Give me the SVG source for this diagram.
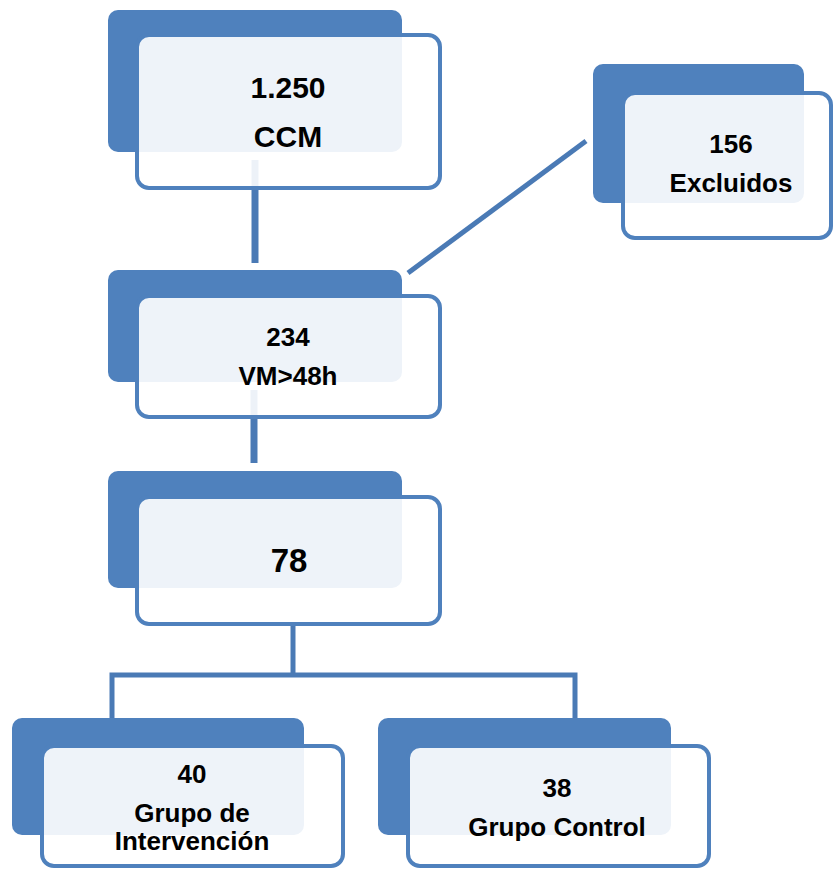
<svg xmlns="http://www.w3.org/2000/svg" width="833" height="870" viewBox="0 0 833 870">
<style>
.back{fill:#4F81BD;}
.front{fill:#FFFFFF;fill-opacity:0.9;stroke:#4F81BD;stroke-width:4;}
.conn{stroke:#4A7AB5;fill:none;stroke-linecap:butt;}
text{font-family:"Liberation Sans",Arial,sans-serif;font-weight:bold;fill:#000;text-anchor:middle;}
.t26{font-size:26px;}
.t30{font-size:30px;}
.t33{font-size:33px;}
</style>
<rect width="833" height="870" fill="#FFFFFF"/>
<g id="connectors">
<line class="conn" x1="255" y1="160" x2="255" y2="263" stroke-width="7"/>
<line class="conn" x1="254" y1="390" x2="254" y2="463" stroke-width="7"/>
<line class="conn" x1="408" y1="273" x2="586" y2="141" stroke-width="5"/>
<polyline class="conn" points="293,624 293,675" stroke-width="5"/>
<polyline class="conn" points="112,720 112,675 575,675 575,720" stroke-width="5"/>
</g>
<g id="node-ccm">
<rect class="back" x="108" y="10" width="294" height="142" rx="10"/>
<rect class="front" x="137" y="35" width="303" height="153" rx="12"/>
<text class="t30" x="288" y="98">1.250</text>
<text class="t30" x="288" y="147">CCM</text>
</g>
<g id="node-excluidos">
<rect class="back" x="593" y="64" width="211" height="139" rx="10"/>
<rect class="front" x="623" y="93" width="208" height="145" rx="12"/>
<text class="t26" x="731" y="153">156</text>
<text class="t26" x="731" y="192">Excluidos</text>
</g>
<g id="node-vm">
<rect class="back" x="108" y="270" width="294" height="112" rx="10"/>
<rect class="front" x="137" y="296" width="303" height="121" rx="12"/>
<text class="t26" x="288" y="346">234</text>
<text class="t26" x="288" y="385">VM&gt;48h</text>
</g>
<g id="node-78">
<rect class="back" x="108" y="471" width="294" height="117" rx="10"/>
<rect class="front" x="137" y="497" width="303" height="127" rx="12"/>
<text class="t33" x="289" y="572">78</text>
</g>
<g id="node-intervencion">
<rect class="back" x="12" y="718" width="292" height="117" rx="10"/>
<rect class="front" x="42" y="746" width="301" height="120" rx="12"/>
<text class="t26" x="192" y="783">40</text>
<text class="t26" x="192" y="822">Grupo de</text>
<text class="t26" x="192" y="850">Intervención</text>
</g>
<g id="node-control">
<rect class="back" x="378" y="718" width="293" height="117" rx="10"/>
<rect class="front" x="408" y="746" width="301" height="120" rx="12"/>
<text class="t26" x="557" y="797">38</text>
<text class="t26" x="557" y="836">Grupo Control</text>
</g>
</svg>
